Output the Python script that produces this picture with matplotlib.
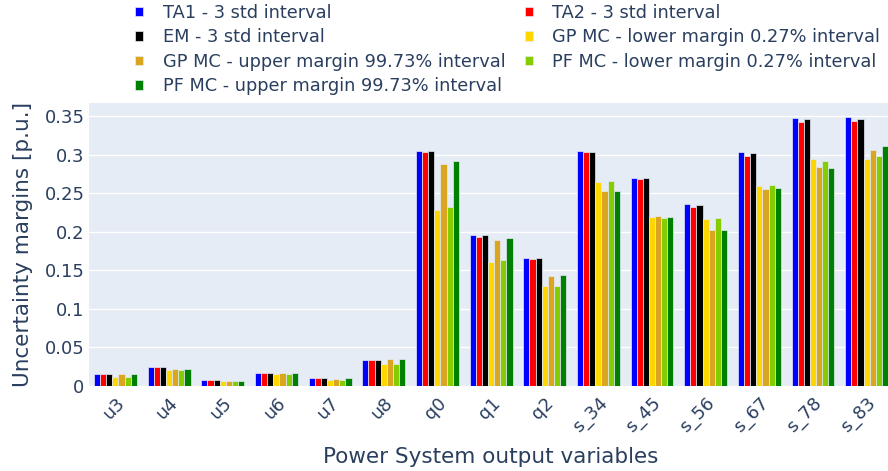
import numpy as np
import matplotlib
matplotlib.use("Agg")
from matplotlib import pyplot as plt

plt.rcParams['font.family'] = ['DejaVu Sans']

# output variables on the x axis
variables = ['u3', 'u4', 'u5', 'u6', 'u7', 'u8', 'q0', 'q1', 'q2',
             's_34', 's_45', 's_56', 's_67', 's_78', 's_83']

# uncertainty margins [p.u.] per method
ta1 = [0.0156, 0.0243, 0.0078, 0.0169, 0.0095, 0.0334, 0.305, 0.1953, 0.1663,
       0.3048, 0.270, 0.2356, 0.303, 0.3477, 0.3486]
ta2 = [0.0156, 0.0243, 0.0078, 0.0169, 0.0095, 0.0334, 0.303, 0.1935, 0.1645,
       0.303, 0.268, 0.2325, 0.2979, 0.342, 0.3433]
em = [0.0156, 0.0243, 0.0078, 0.0169, 0.0095, 0.0334, 0.305, 0.1957, 0.1663,
      0.3035, 0.2697, 0.2342, 0.3018, 0.3463, 0.3463]
gp_lower = [0.0111, 0.0200, 0.0060, 0.0152, 0.0078, 0.0282, 0.2286, 0.161, 0.129,
            0.264, 0.2187, 0.216, 0.2594, 0.2944, 0.2948]
gp_upper = [0.0148, 0.0213, 0.0065, 0.0165, 0.0090, 0.0343, 0.288, 0.1888, 0.142,
            0.2524, 0.220, 0.2026, 0.255, 0.2844, 0.3065]
pf_lower = [0.0111, 0.0200, 0.0060, 0.0156, 0.0078, 0.0282, 0.2317, 0.1632, 0.1299,
            0.2654, 0.2182, 0.2174, 0.2606, 0.2922, 0.2983]
pf_upper = [0.0149, 0.0213, 0.0065, 0.0169, 0.0095, 0.0347, 0.2918, 0.1914, 0.1438,
            0.2533, 0.2187, 0.2026, 0.2563, 0.2827, 0.3109]

series = [
    ("TA1 - 3 std interval", ta1, "#0000FF"),
    ("TA2 - 3 std interval", ta2, "#FF0000"),
    ("EM - 3 std interval", em, "#000000"),
    ("GP MC - lower margin 0.27% interval", gp_lower, "#FFD700"),
    ("GP MC - upper margin 99.73% interval", gp_upper, "#DAA520"),
    ("PF MC - lower margin 0.27% interval", pf_lower, "#85CC00"),
    ("PF MC - upper margin 99.73% interval", pf_upper, "#008000"),
]

textColor = "#2a3f5f"
W, H = 888, 471
fig = plt.figure(figsize=(W / 100, H / 100), dpi=100)
ax = fig.add_axes([88.6 / W, (H - 385.7) / H, (893.5 - 88.6) / W, (385.7 - 103) / H])
ax.set_facecolor("#E5ECF6")

x = np.arange(len(variables))
nSeries = len(series)
barW = 0.8 / nSeries
handles = {}
for i, (name, vals, col) in enumerate(series):
    offs = -0.4 + barW * (i + 0.5)
    handles[name] = ax.bar(x + offs, vals, width=barW, color=col,
                           edgecolor="#E5ECF6", linewidth=0.5, label=name, zorder=3)

ax.set_xlim(-0.5, len(variables) - 0.5)
ax.set_ylim(0, 0.367)
yt = [0, 0.05, 0.1, 0.15, 0.2, 0.25, 0.3, 0.35]
ax.set_yticks(yt)
ax.set_yticklabels(["0", "0.05", "0.1", "0.15", "0.2", "0.25", "0.3", "0.35"])
ax.grid(axis="y", color="white", linewidth=1, zorder=0)
ax.set_axisbelow(True)
for s in ax.spines.values():
    s.set_visible(False)
ax.tick_params(axis="both", length=0, labelsize=13, colors=textColor)
ax.tick_params(axis="y", pad=3)
ax.set_xticks(x)
ax.set_xticklabels(variables, rotation=45, ha="right", rotation_mode="anchor")
ax.tick_params(axis="x", pad=6)

ax.set_xlabel("Power System output variables", fontsize=15.5, color=textColor, labelpad=8)
ax.set_ylabel("Uncertainty margins [p.u.]", fontsize=15.5, color=textColor, labelpad=8)

# legend items listed column by column so they read row-wise
order = [0, 2, 4, 6, 1, 3, 5]
legHandles = [handles[series[k][0]] for k in order]
legLabels = [series[k][0] for k in order]
leg = fig.legend(legHandles, legLabels, loc="upper left", bbox_to_anchor=(135 / W, 1 - 4 / H),
                 ncol=2, frameon=False, fontsize=12.8, labelcolor=textColor,
                 handlelength=0.45, handleheight=0.45, handletextpad=1.1,
                 columnspacing=1.1, labelspacing=0.36, borderaxespad=0, borderpad=0)

fig.savefig("out.png", dpi=100)
